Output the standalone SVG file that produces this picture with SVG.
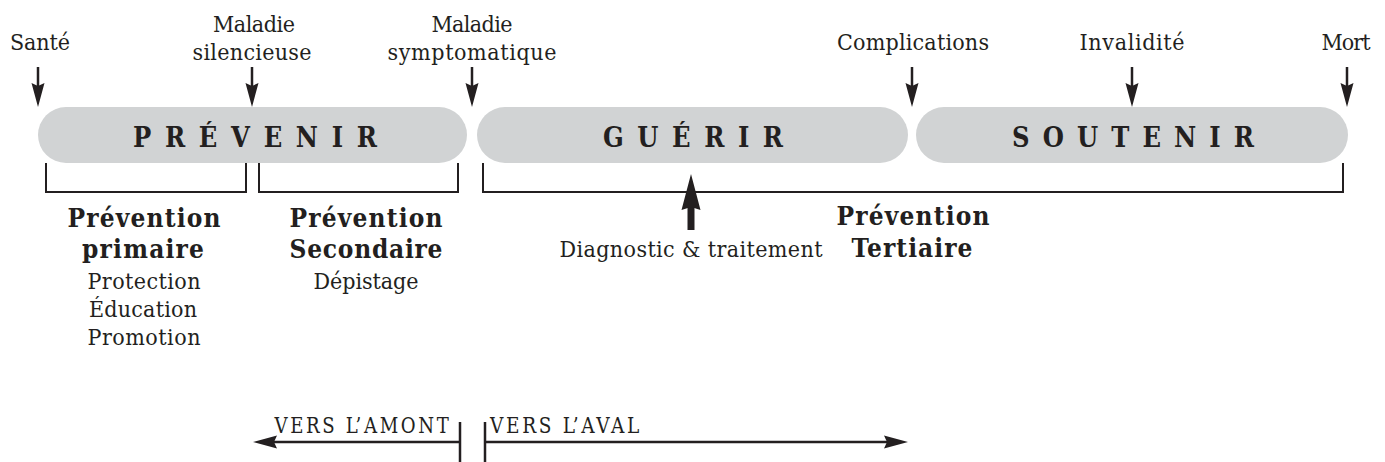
<svg xmlns="http://www.w3.org/2000/svg" width="1385" height="462" viewBox="0 0 1385 462">
  <style>
    text { font-family: "DejaVu Serif Condensed", "DejaVu Serif", serif; font-stretch: condensed; fill: #231f20; text-anchor: middle; }
    .lbl { font-size: 23px; }
    .phase { font-size: 27px; font-weight: bold; }
    .bold { font-size: 26px; font-weight: bold; }
    .sub { font-size: 23px; }
    .dir { font-size: 23px; letter-spacing: 3px; }
    .pill { fill: #d1d3d4; }
    .bracket { fill: none; stroke: #231f20; stroke-width: 2; }
    .ptr { stroke: #231f20; stroke-width: 2.5; fill: none; }
  </style>
  <defs>
    <marker id="head" viewBox="0 -7 24 14" markerWidth="24" markerHeight="14" refX="12" refY="0" markerUnits="userSpaceOnUse" orient="auto">
      <path d="M0,-6.5 L24,0 L0,6.5 L3,0 Z" fill="#231f20"/>
    </marker>
    <marker id="bigHead" viewBox="0 -10 36 20" markerWidth="36" markerHeight="20" refX="10" refY="0" markerUnits="userSpaceOnUse" orient="auto">
      <path d="M0,-9.5 L36,0 L0,9.5 L3,0 Z" fill="#231f20"/>
    </marker>
  </defs>

  <!-- phase bars -->
  <g id="prevenir">
    <rect class="pill" x="38" y="107" width="429" height="56" rx="28"/>
    <text class="phase" x="255" y="147" textLength="244" lengthAdjust="spacing">PRÉVENIR</text>
  </g>
  <g id="guerir">
    <rect class="pill" x="477" y="107" width="431" height="56" rx="28"/>
    <text class="phase" x="693" y="147" textLength="180" lengthAdjust="spacing">GUÉRIR</text>
  </g>
  <g id="soutenir">
    <rect class="pill" x="916" y="107" width="432" height="56" rx="28"/>
    <text class="phase" x="1133" y="147" textLength="242" lengthAdjust="spacing">SOUTENIR</text>
  </g>

  <!-- milestones along the course of the disease -->
  <g id="sante"><text class="lbl" x="40" y="50" textLength="60" lengthAdjust="spacing">Santé</text></g>
  <g id="maladie-silencieuse">
    <text class="lbl" x="254" y="32" textLength="82" lengthAdjust="spacing">Maladie</text>
    <text class="lbl" x="252" y="60" textLength="119" lengthAdjust="spacing">silencieuse</text>
  </g>
  <g id="maladie-symptomatique">
    <text class="lbl" x="472" y="32" textLength="81" lengthAdjust="spacing">Maladie</text>
    <text class="lbl" x="472" y="60" textLength="169" lengthAdjust="spacing">symptomatique</text>
  </g>
  <g id="complications"><text class="lbl" x="913" y="50" textLength="152" lengthAdjust="spacing">Complications</text></g>
  <g id="invalidite"><text class="lbl" x="1132" y="50" textLength="105" lengthAdjust="spacing">Invalidité</text></g>
  <g id="mort"><text class="lbl" x="1346" y="50" textLength="49" lengthAdjust="spacing">Mort</text></g>

  <!-- prevention levels -->
  <g id="prevention-primaire">
    <text class="bold" x="144" y="227" textLength="153" lengthAdjust="spacing">Prévention</text>
    <text class="bold" x="143" y="258" textLength="122" lengthAdjust="spacing">primaire</text>
    <text class="sub" x="144" y="289" textLength="113" lengthAdjust="spacing">Protection</text>
    <text class="sub" x="143" y="317" textLength="108" lengthAdjust="spacing">Éducation</text>
    <text class="sub" x="144" y="345" textLength="113" lengthAdjust="spacing">Promotion</text>
  </g>
  <g id="prevention-secondaire">
    <text class="bold" x="366" y="227" textLength="153" lengthAdjust="spacing">Prévention</text>
    <text class="bold" x="366" y="258" textLength="153" lengthAdjust="spacing">Secondaire</text>
    <text class="sub" x="366" y="289" textLength="105" lengthAdjust="spacing">Dépistage</text>
  </g>
  <g id="prevention-tertiaire">
    <text class="bold" x="913" y="225" textLength="153" lengthAdjust="spacing">Prévention</text>
    <text class="bold" x="912" y="257" textLength="121" lengthAdjust="spacing">Tertiaire</text>
  </g>
  <g id="diagnostic">
    <text class="sub" x="691" y="257" textLength="263" lengthAdjust="spacing">Diagnostic &amp; traitement</text>
  </g>

  <!-- upstream / downstream -->
  <g id="amont"><text class="dir" x="363" y="433" textLength="177" lengthAdjust="spacingAndGlyphs">VERS L’AMONT</text></g>
  <g id="aval"><text class="dir" x="566" y="433" textLength="152" lengthAdjust="spacingAndGlyphs">VERS L’AVAL</text></g>

  <g id="connectors">
    <!-- pointers onto the timeline -->
    <line class="ptr" x1="38" y1="67" x2="38" y2="95" marker-end="url(#head)"/>
    <line class="ptr" x1="252" y1="67" x2="252" y2="95" marker-end="url(#head)"/>
    <line class="ptr" x1="472" y1="67" x2="472" y2="95" marker-end="url(#head)"/>
    <line class="ptr" x1="912" y1="67" x2="912" y2="95" marker-end="url(#head)"/>
    <line class="ptr" x1="1132" y1="67" x2="1132" y2="95" marker-end="url(#head)"/>
    <line class="ptr" x1="1347" y1="67" x2="1347" y2="95" marker-end="url(#head)"/>

    <!-- brackets under the phases -->
    <path class="bracket" d="M46,163 V192 H246 V163"/>
    <path class="bracket" d="M259,163 V192 H458 V163"/>
    <path class="bracket" d="M483,163 V192 H1343 V163"/>

    <!-- diagnostic arrow -->
    <line stroke="#231f20" stroke-width="7" x1="691" y1="230" x2="691" y2="200" marker-end="url(#bigHead)"/>

    <!-- direction arrows -->
    <line class="ptr" x1="460" y1="442" x2="265" y2="442" marker-end="url(#head)"/>
    <line class="ptr" x1="485" y1="442" x2="896" y2="442" marker-end="url(#head)"/>
    <line class="ptr" x1="460" y1="422" x2="460" y2="462"/>
    <line class="ptr" x1="485" y1="422" x2="485" y2="462"/>
  </g>
</svg>
